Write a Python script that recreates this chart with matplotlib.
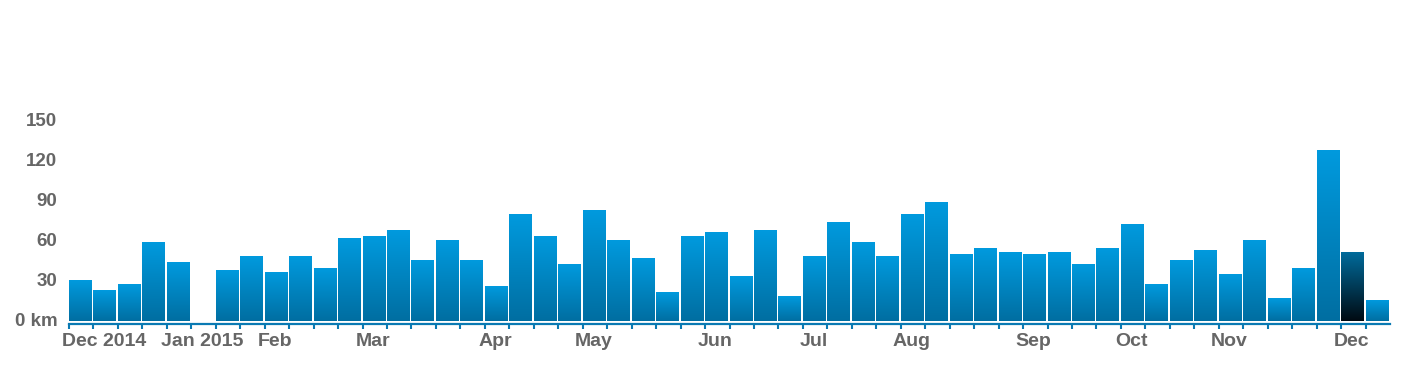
import numpy as np
import pandas as pd
import matplotlib
matplotlib.use("Agg")
import matplotlib.pyplot as plt
import matplotlib.dates as mdates
from matplotlib.colors import LinearSegmentedColormap
from matplotlib.transforms import ScaledTranslation

# ---- data -------------------------------------------------------------
start_week = "2014-12-01"
weekly_km = [30.5, 23.0, 27.5, 59.0, 44.0, 0.0, 38.0, 48.5, 36.5, 48.5,
             39.5, 62.0, 63.5, 68.0, 45.5, 60.5, 45.5, 26.0, 80.0, 63.5,
             42.5, 83.0, 60.5, 47.0, 21.5, 63.5, 66.5, 33.5, 68.0, 18.5,
             48.5, 74.0, 59.0, 48.5, 80.0, 89.0, 50.0, 54.5, 51.5, 50.0,
             51.5, 42.5, 54.5, 72.5, 27.5, 45.5, 53.0, 35.0, 60.5, 17.0,
             39.5, 128.0, 51.5, 15.5]
highlight_week = 52
month_labels = ["Dec 2014", "Jan 2015", "Feb", "Mar", "Apr", "May", "Jun",
                "Jul", "Aug", "Sep", "Oct", "Nov", "Dec"]
month_label_weeks = ["2014-12-08", "2015-01-05", "2015-01-26", "2015-02-23",
                     "2015-03-30", "2015-04-27", "2015-06-01", "2015-06-29",
                     "2015-07-27", "2015-08-31", "2015-09-28", "2015-10-26",
                     "2015-11-30"]
y_ticks = [0, 30, 60, 90, 120, 150]
y_tick_labels = ["0 km", "30", "60", "90", "120", "150"]

# ---- figure -----------------------------------------------------------
W, H, DPI = 1422, 370, 100
fig = plt.figure(figsize=(W / DPI, H / DPI), dpi=DPI)
px_per_unit = 40 / 30.0
base_px = 321.0
ax = fig.add_axes([69 / W, (H - base_px) / H, (1390 - 69) / W, base_px / H])

weeks = pd.date_range(start_week, periods=len(weekly_km), freq="7D")
xnum = mdates.date2num(weeks)
bar_w = 7 * 22.2 / 24.46

normal_cmap = LinearSegmentedColormap.from_list("n", ["#006ea1", "#009ade"])
dark_cmap = LinearSegmentedColormap.from_list("d", ["#000a12", "#006b9b"])
grad = np.linspace(0, 1, 256).reshape(-1, 1)

bars = ax.bar(xnum, weekly_km, width=bar_w, align="edge", color="none",
              edgecolor="none", linewidth=0)
for i, b in enumerate(bars):
    h = b.get_height()
    if h <= 0:
        continue
    x0 = b.get_x()
    cmap = dark_cmap if i == highlight_week else normal_cmap
    ax.imshow(grad, cmap=cmap, origin="lower", aspect="auto",
              extent=(x0, x0 + b.get_width(), 0, h), interpolation="bilinear",
              zorder=2)

end_num = mdates.date2num(weeks[-1] + pd.Timedelta(days=7))
ax.set_xlim(xnum[0], end_num)
ax.set_ylim(0, base_px / px_per_unit)

# spines
for s in ["top", "right", "left"]:
    ax.spines[s].set_visible(False)
axis_blue = "#0a7ab3"
ax.spines["bottom"].set_color(axis_blue)
ax.spines["bottom"].set_linewidth(1.6)
ax.spines["bottom"].set_position(("outward", 1.8))

# x ticks: weekly marks, month labels as minor ticks
ax.set_xticks(xnum)
ax.set_xticklabels([])
ax.tick_params(axis="x", which="major", direction="out", length=3.6,
               width=1.5, color=axis_blue)
lab_pos = mdates.date2num(pd.to_datetime(month_label_weeks)) + 3.0
ax.set_xticks(lab_pos, minor=True)
ax.set_xticklabels(month_labels, minor=True)
ax.tick_params(axis="x", which="minor", length=0, pad=6.5)

ax.set_yticks(y_ticks)
ax.set_yticklabels(y_tick_labels)
ax.tick_params(axis="y", length=0, pad=8.3)

label_color = "#666666"
for t in ax.get_xticklabels(minor=True):
    t.set_fontfamily("Liberation Sans")
    t.set_fontweight("bold")
    t.set_fontsize(14)
    t.set_color(label_color)
shift_up = ScaledTranslation(0, 2.0 / DPI, fig.dpi_scale_trans)
for t in ax.get_yticklabels():
    t.set_fontfamily("Liberation Sans")
    t.set_fontweight("bold")
    t.set_fontsize(13.5)
    t.set_color(label_color)
    t.set_transform(t.get_transform() + shift_up)

ax.patch.set_alpha(0)
fig.savefig("out.png", dpi=DPI, facecolor="white")
